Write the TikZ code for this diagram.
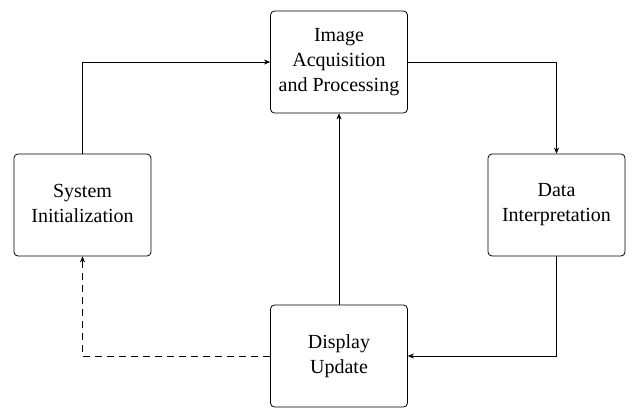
\documentclass[tikz,border=0pt]{standalone}
\usepackage{fontspec}
\setmainfont{Liberation Serif}
\newfontfamily\boxfont{Liberation Serif}
\usetikzlibrary{arrows.meta}
\newcommand\boxstrut{\rule[-4pt]{0pt}{24pt}}
\tikzset{
    stagebox/.style={draw,thick,rounded corners=4pt,minimum width=137pt,minimum height=102pt,
        align=center,inner sep=2pt,font=\boxfont\fontsize{20}{25}\selectfont,
        execute at begin node=\boxstrut,execute at end node=\boxstrut},
    flow/.style={-{Stealth[length=6pt,width=5pt]},thin}
}
\begin{document}
\begin{tikzpicture}[x=1pt,y=-1pt]
    \useasboundingbox (0,0) rectangle (633,408);
    %draw boxes
    \node[stagebox] (img) at (339,62) {Image\\Acquisition\\and Processing};
    \node[stagebox] (sys) at (82.5,205) {System\\Initialization};
    \node[stagebox] (data) at (556.5,205) {Data\\Interpretation};
    \node[stagebox] (disp) at (339,356) {Display\\Update};
    %draw lines
    \draw [flow] (sys.north) |- (img.west);
    \draw [flow] (img.east) -| (data.north);
    \draw [flow] (data.south) |- (disp.east);
    \draw [flow] (disp.north) -- (img.south);
    \draw [flow,dashed,dash pattern=on 7pt off 5pt] (disp.west) -| (sys.south);
\end{tikzpicture}
\end{document}
